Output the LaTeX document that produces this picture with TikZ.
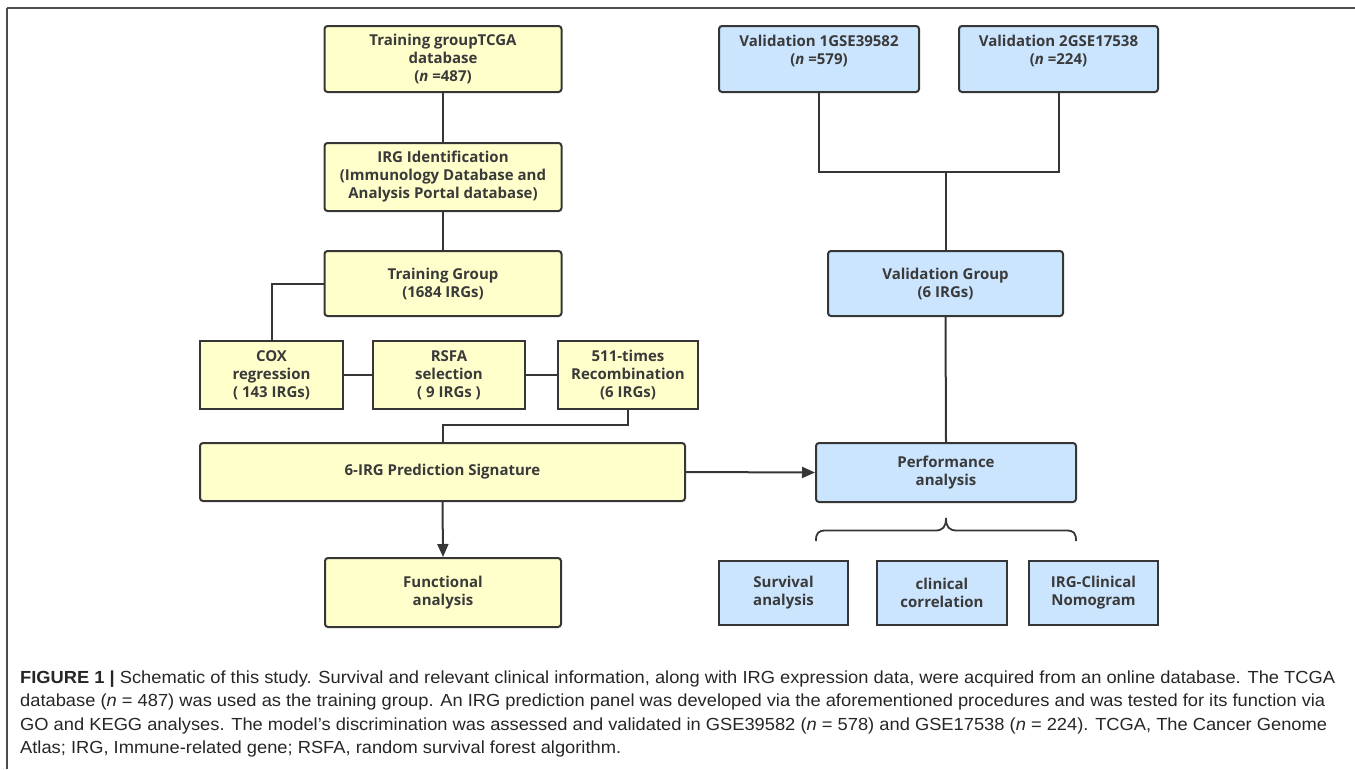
\documentclass[tikz,border=0pt]{standalone}
\usepackage{fontspec}
\usepackage{graphicx}
\setmainfont{Open Sans}
\newfontfamily\capfont{Liberation Sans}
\usetikzlibrary{arrows.meta,calc}
\definecolor{yfill}{HTML}{FFFFCC}
\definecolor{bfill}{HTML}{CCE5FF}
\definecolor{edge}{HTML}{363636}
\definecolor{txt}{HTML}{3A3A3A}
\definecolor{captxt}{HTML}{262626}
\newcommand\boxfont{\fontsize{15}{18}\selectfont\bfseries}
\newcommand\capsize{\capfont\fontsize{17.5}{20}\selectfont}
\newcommand\capA{\textbf{FIGURE 1 |} Schematic of this study. Survival and relevant clinical information, along with IRG expression data, were acquired from an online database. The TCGA}
\newcommand\capB{database (\textit{n} = 487) was used as the training group. An IRG prediction panel was developed via the aforementioned procedures and was tested for its function via}
\newcommand\capC{GO and KEGG analyses. The model’s discrimination was assessed and validated in GSE39582 (\textit{n} = 578) and GSE17538 (\textit{n} = 224). TCGA, The Cancer Genome}
\newcommand\capD{Atlas; IRG, Immune-related gene; RSFA, random survival forest algorithm.}
\newlength\capLone
\newsavebox\capAbox
\tikzset{
  base/.style={draw=edge, line width=2pt, align=center, text=txt, font=\boxfont, inner sep=0pt},
  ybox/.style={base, fill=yfill, rounded corners=3pt},
  ysq/.style={base, fill=yfill},
  bbox/.style={base, fill=bfill, rounded corners=3pt},
  bsq/.style={base, fill=bfill},
  conn/.style={draw=edge, line width=2pt},
  arr/.style={conn, -{Triangle[length=13pt,width=11pt]}},
  capline/.style={anchor=base west, inner sep=0pt, text=captxt}
}
\begin{document}
\sbox\capAbox{\capsize\capA}%
\setlength\capLone{\wd\capAbox}%
\pgfmathsetmacro\capsc{1315/\capLone}%
\begin{tikzpicture}[x=1pt,y=-1pt]
\useasboundingbox (0,0) rectangle (1355,769);
% frame
\draw[line width=2pt, color=black!70] (7,8) -- (1355,8);
\draw[line width=1.4pt, color=black!70] (7,8) -- (7,769);
% left column
\node[ybox, minimum width=237pt, minimum height=66pt] (tcga) at (443,59) {Training groupTCGA\\database\\(\textit{n} =487)};
\node[ybox, minimum width=237pt, minimum height=68pt] (irgid) at (443,177) {IRG Identification\\(Immunology Database and\\Analysis Portal database)};
\node[ybox, minimum width=237pt, minimum height=65pt] (tg) at (443,283.5) {Training Group\\(1684 IRGs)};
\node[ysq, minimum width=143pt, minimum height=68pt] (cox) at (271.5,375) {COX\\regression\\( 143 IRGs)};
\node[ysq, minimum width=152pt, minimum height=68pt] (rsfa) at (449,375) {RSFA\\selection\\( 9 IRGs )};
\node[ysq, minimum width=140pt, minimum height=68pt] (rec) at (628,375) {511-times\\Recombination\\(6 IRGs)};
\node[ybox, minimum width=485pt, minimum height=58pt] (sig) at (442.5,472) {6-IRG Prediction Signature};
\node[ybox, minimum width=236pt, minimum height=69pt] (func) at (443,592.5) {Functional\\analysis};
% right column
\node[bbox, minimum width=200pt, minimum height=66pt] (v1) at (819,59) {Validation 1GSE39582\\(\textit{n} =579)\\~};
\node[bbox, minimum width=199pt, minimum height=66pt] (v2) at (1058.5,59) {Validation 2GSE17538\\(\textit{n} =224)\\~};
\node[bbox, minimum width=235pt, minimum height=65pt] (vg) at (945.5,283.5) {Validation Group\\(6 IRGs)};
\node[bbox, minimum width=260pt, minimum height=59pt] (perf) at (946,472.5) {Performance\\analysis};
\node[bsq, minimum width=129pt, minimum height=64pt] (surv) at (783.5,593) {Survival\\analysis};
\node[bsq, minimum width=130pt, minimum height=64pt] (clin) at (942,593) {clinical\\correlation};
\node[bsq, minimum width=129pt, minimum height=64pt] (nomo) at (1093.5,593) {IRG-Clinical\\Nomogram};
% connectors
\draw[conn] (tcga.south) -- (irgid.north);
\draw[conn] (irgid.south) -- (tg.north);
\draw[conn] (tg.west) -| (cox.north);
\draw[conn] (cox.east) -- (rsfa.west);
\draw[conn] (rsfa.east) -- (rec.west);
\draw[conn] (rec.south) |- ($(sig.north)+(0,-17)$) -- (sig.north);
\draw[arr] (sig.east) -- (perf.west);
\draw[arr] (sig.south) -- (func.north);
\coordinate (vj) at (945.5,172);
\draw[conn] (v1.south) |- (vj) -| (v2.south);
\draw[conn] (vj) -- (vg.north);
\draw[conn] (vg.south) -- (perf.north);
% brace
\draw[conn, line width=1.8pt] (816,541) .. controls (816,533) and (818,530.5) .. (826,530.5) -- (935,530.5) .. controls (943,530.5) and (946,527) .. (946,518) .. controls (946,527) and (949,530.5) .. (957,530.5) -- (1066,530.5) .. controls (1074,530.5) and (1076,533) .. (1076,541);
% caption
\node[capline] (c1) at (20,683) {\scalebox{\capsc}[1]{\capsize\capA}};
\node[capline] (c2) at (20,706.5) {\scalebox{\capsc}[1]{\capsize\capB}};
\node[capline] (c3) at (20,730) {\scalebox{\capsc}[1]{\capsize\capC}};
\node[capline] (c4) at (20,753.5) {\scalebox{\capsc}[1]{\capsize\capD}};
\end{tikzpicture}
\end{document}
